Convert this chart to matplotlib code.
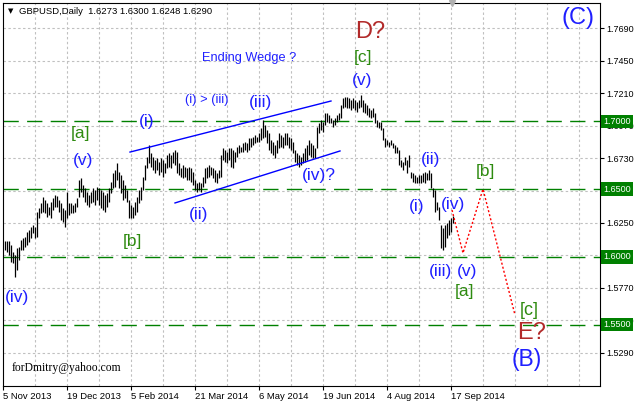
import matplotlib
matplotlib.use("Agg")
import matplotlib.pyplot as plt
import matplotlib.transforms as mtransforms

plt.rcParams['font.family'] = ['Liberation Sans', 'DejaVu Sans']

# daily GBPUSD bars (high / low)
highs = [
    1.6117, 1.6117, 1.6117, 1.6088, 1.6036, 1.6014, 1.6065, 1.6073, 1.6124, 1.6140,
    1.6147, 1.6184, 1.6199, 1.6221, 1.6236, 1.6221, 1.6331, 1.6361, 1.6398, 1.6442,
    1.6420, 1.6398, 1.6368, 1.6405, 1.6435, 1.6457, 1.6449, 1.6420, 1.6398, 1.6361,
    1.6346, 1.6479, 1.6398, 1.6398, 1.6383, 1.6398, 1.6435, 1.6568, 1.6582, 1.6531,
    1.6508, 1.6479, 1.6457, 1.6479, 1.6508, 1.6494, 1.6516, 1.6508, 1.6494, 1.6479,
    1.6457, 1.6471, 1.6508, 1.6553, 1.6619, 1.6641, 1.6693, 1.6627, 1.6604, 1.6568,
    1.6531, 1.6494, 1.6420, 1.6383, 1.6368, 1.6405, 1.6442, 1.6494, 1.6516, 1.6590,
    1.6678, 1.6737, 1.6826, 1.6767, 1.6737, 1.6715, 1.6730, 1.6700, 1.6730, 1.6715,
    1.6693, 1.6752, 1.6767, 1.6752, 1.6774, 1.6789, 1.6774, 1.6693, 1.6656, 1.6678,
    1.6663, 1.6656, 1.6663, 1.6656, 1.6627, 1.6568, 1.6545, 1.6553, 1.6545, 1.6590,
    1.6656, 1.6663, 1.6678, 1.6663, 1.6656, 1.6641, 1.6619, 1.6641, 1.6752, 1.6804,
    1.6789, 1.6774, 1.6804, 1.6804, 1.6789, 1.6774, 1.6811, 1.6826, 1.6811, 1.6841,
    1.6848, 1.6841, 1.6878, 1.6878, 1.6885, 1.6900, 1.6885, 1.6915, 1.6951, 1.7011,
    1.6974, 1.6937, 1.6915, 1.6863, 1.6848, 1.6826, 1.6863, 1.6915, 1.6900, 1.6885,
    1.6915, 1.6915, 1.6885, 1.6878, 1.6848, 1.6789, 1.6767, 1.6752, 1.6737, 1.6767,
    1.6804, 1.6826, 1.6863, 1.6841, 1.6826, 1.6804, 1.6959, 1.6988, 1.7011, 1.6996,
    1.7062, 1.7062, 1.7047, 1.7025, 1.7011, 1.7025, 1.7047, 1.7062, 1.7121, 1.7173,
    1.7180, 1.7180, 1.7173, 1.7158, 1.7173, 1.7158, 1.7143, 1.7158, 1.7195, 1.7158,
    1.7136, 1.7121, 1.7099, 1.7085, 1.7099, 1.7062, 1.7011, 1.6996, 1.6996, 1.6951,
    1.6878, 1.6863, 1.6848, 1.6863, 1.6841, 1.6826, 1.6811, 1.6789, 1.6715, 1.6700,
    1.6737, 1.6715, 1.6752, 1.6627, 1.6619, 1.6604, 1.6590, 1.6604, 1.6604, 1.6619,
    1.6627, 1.6619, 1.6641, 1.6619, 1.6508, 1.6494, 1.6405, 1.6368, 1.6236, 1.6214,
    1.6236, 1.6250, 1.6272, 1.6287, 1.6300,
]
lows = [
    1.6051, 1.6036, 1.6014, 1.5962, 1.5955, 1.5851, 1.5903, 1.5977, 1.6051, 1.6051,
    1.6073, 1.6088, 1.6110, 1.6140, 1.6177, 1.6140, 1.6147, 1.6287, 1.6324, 1.6331,
    1.6324, 1.6295, 1.6309, 1.6287, 1.6346, 1.6368, 1.6368, 1.6331, 1.6272, 1.6258,
    1.6221, 1.6287, 1.6309, 1.6324, 1.6324, 1.6331, 1.6368, 1.6442, 1.6479, 1.6442,
    1.6405, 1.6383, 1.6368, 1.6398, 1.6405, 1.6383, 1.6420, 1.6383, 1.6361, 1.6346,
    1.6331, 1.6368, 1.6405, 1.6471, 1.6508, 1.6516, 1.6568, 1.6508, 1.6471, 1.6420,
    1.6435, 1.6405, 1.6287, 1.6287, 1.6287, 1.6309, 1.6331, 1.6398, 1.6420, 1.6494,
    1.6568, 1.6656, 1.6693, 1.6663, 1.6641, 1.6619, 1.6641, 1.6604, 1.6627, 1.6590,
    1.6619, 1.6656, 1.6663, 1.6656, 1.6693, 1.6678, 1.6619, 1.6604, 1.6590, 1.6582,
    1.6590, 1.6568, 1.6568, 1.6553, 1.6531, 1.6494, 1.6479, 1.6494, 1.6479, 1.6516,
    1.6545, 1.6582, 1.6590, 1.6604, 1.6582, 1.6553, 1.6545, 1.6582, 1.6590, 1.6715,
    1.6700, 1.6693, 1.6715, 1.6663, 1.6656, 1.6700, 1.6737, 1.6767, 1.6774, 1.6774,
    1.6789, 1.6774, 1.6789, 1.6811, 1.6826, 1.6841, 1.6848, 1.6848, 1.6863, 1.6878,
    1.6885, 1.6841, 1.6789, 1.6767, 1.6752, 1.6730, 1.6767, 1.6804, 1.6811, 1.6804,
    1.6826, 1.6826, 1.6804, 1.6789, 1.6767, 1.6700, 1.6678, 1.6663, 1.6678, 1.6693,
    1.6700, 1.6715, 1.6752, 1.6737, 1.6730, 1.6730, 1.6804, 1.6915, 1.6937, 1.6922,
    1.6974, 1.6996, 1.6988, 1.6988, 1.6959, 1.6974, 1.6996, 1.7011, 1.7025, 1.7099,
    1.7107, 1.7099, 1.7099, 1.7085, 1.7099, 1.7085, 1.7070, 1.7099, 1.7107, 1.7070,
    1.7062, 1.7047, 1.7033, 1.7025, 1.7033, 1.6988, 1.6959, 1.6951, 1.6937, 1.6863,
    1.6811, 1.6826, 1.6811, 1.6826, 1.6804, 1.6767, 1.6767, 1.6678, 1.6663, 1.6641,
    1.6678, 1.6619, 1.6663, 1.6582, 1.6553, 1.6545, 1.6545, 1.6545, 1.6545, 1.6553,
    1.6545, 1.6568, 1.6568, 1.6508, 1.6442, 1.6331, 1.6346, 1.6272, 1.6065, 1.6051,
    1.6073, 1.6140, 1.6162, 1.6184, 1.6248,
]

date_labels = ["5 Nov 2013", "19 Dec 2013", "5 Feb 2014", "21 Mar 2014",
               "6 May 2014", "19 Jun 2014", "4 Aug 2014", "17 Sep 2014"]
price_ticks = [1.5290, 1.5530, 1.5770, 1.6010, 1.6250, 1.6490,
               1.6730, 1.6970, 1.7210, 1.7450, 1.7690]
hidden_ticks = [1.6010, 1.6490]  # covered by the level boxes
levels = [1.7000, 1.6500, 1.6000, 1.5500]

# wedge trendlines and projected path (bar index, price)
wedge_top_x, wedge_top_y = [62.5, 163], [1.6774, 1.7151]
wedge_bot_x, wedge_bot_y = [85, 167.5], [1.6398, 1.6782]
path_x = [223.5, 229, 239, 255]
path_y = [1.6346, 1.6028, 1.6501, 1.5570]

BLUE = "#1f1fff"
GREEN = "#2e8b10"
BROWN = "#b22a2a"

# (text, bar index, price, colour, size)
labels = [
    ("Ending Wedge ?", 122, 1.7468, BLUE, 9.2),
    ("(i) > (iii)", 101, 1.7158, BLUE, 9.3),
    ("(iii)", 128, 1.7140, BLUE, 12.5),
    ("(i)", 71, 1.7000, BLUE, 12.5),
    ("[a]", 38, 1.6914, GREEN, 12.5),
    ("(v)", 39, 1.6715, BLUE, 12.5),
    ("[b]", 63.5, 1.6110, GREEN, 12.5),
    ("(ii)", 97, 1.6316, BLUE, 12.5),
    ("(iv)?", 157, 1.6604, BLUE, 12.5),
    ("(iv)", 6, 1.5703, BLUE, 12.5),
    ("D?", 182.5, 1.7664, BROWN, 17),
    ("[c]", 179, 1.7476, GREEN, 12.5),
    ("(v)", 178.5, 1.7306, BLUE, 12.5),
    ("(C)", 286.5, 1.7764, BLUE, 17),
    ("(ii)", 213, 1.6722, BLUE, 12.5),
    ("(i)", 206, 1.6375, BLUE, 12.5),
    ("(iv)", 224, 1.6390, BLUE, 12.5),
    ("[b]", 240, 1.6627, GREEN, 12.5),
    ("(iii)", 217.5, 1.5895, BLUE, 12.5),
    ("(v)", 231, 1.5895, BLUE, 12.5),
    ("[a]", 230, 1.5747, GREEN, 12.5),
    ("[c]", 262, 1.5607, GREEN, 13),
    ("E?", 263.5, 1.5437, BROWN, 17),
    ("(B)", 261, 1.5245, BLUE, 16.5),
]

W, H = 637, 404
fig = plt.figure(figsize=(W / 100, H / 100), dpi=100)
fig.patch.set_facecolor("white")
ax = fig.add_axes([3 / W, 18 / H, 597 / W, 383 / H])
ax.set_xlim(-1, 297.5)
ax.set_ylim(1.5046, 1.7875)

# grid
for k in range(1, 19):
    ax.axvline(-1 + 16 * k, color="#c0c0c0", lw=0.8, dashes=(2.2, 2.2), zorder=0)
for p in price_ticks:
    ax.axhline(p, color="#c0c0c0", lw=0.8, dashes=(2.2, 2.2), zorder=0)

# support / resistance levels
for p in levels:
    ax.axhline(p, color="#008000", lw=1.0, dashes=(11, 6), zorder=1)

# bars
idx = list(range(len(highs)))
ax.vlines(idx, lows, highs, color="black", lw=0.9, zorder=3)

ax.plot(wedge_top_x, wedge_top_y, color="blue", lw=1.0, zorder=4)
ax.plot(wedge_bot_x, wedge_bot_y, color="blue", lw=1.0, zorder=4)
ax.plot(path_x, path_y, color="red", lw=1.0, dashes=(1.5, 1.5), zorder=4)

for txt, x, y, c, s in labels:
    ax.text(x, y, txt, color=c, fontsize=s, ha="center", va="center", zorder=5)

ax.text(3.5, 1.5179, "forDmitry@yahoo.com", family="Liberation Serif",
        fontsize=8.4, ha="left", va="center", color="black")

# axes
for sp in ax.spines.values():
    sp.set_color("black")
    sp.set_linewidth(0.8)
ax.yaxis.tick_right()
ax.set_yticks(price_ticks)
ax.set_yticklabels(["" if p in hidden_ticks else "%.4f" % p for p in price_ticks])
ax.set_xticks([-1 + 32 * k for k in range(len(date_labels))])
ax.set_xticklabels(date_labels, ha="left")
ax.tick_params(axis="y", direction="out", length=3, width=0.8, pad=1.5,
               labelsize=6.5, colors="black")
ax.tick_params(axis="x", direction="out", length=3, width=0.8, pad=1.5,
               labelsize=6.8, colors="black")

blend = mtransforms.blended_transform_factory(ax.transAxes, ax.transData)
for p in levels:
    ax.text(1.006, p, "%.4f" % p, transform=blend, ha="left", va="center",
            fontsize=6.5, color="white", clip_on=False, zorder=6,
            bbox=dict(boxstyle="square,pad=0.25", facecolor="#008000",
                      edgecolor="none"))

# chart header
fig.text(8 / W, 1 - 11 / H, "\u25bc", family="DejaVu Sans", fontsize=5,
         ha="left", va="center")
fig.text(19 / W, 1 - 11 / H, "GBPUSD,Daily  1.6273 1.6300 1.6248 1.6290",
         fontsize=6.8, ha="left", va="center")
ax.plot([223.5], [1.7875], marker="v", color="#b0b0b0", ms=4.5,
        clip_on=False, zorder=6)

fig.savefig("out.png", dpi=100)
